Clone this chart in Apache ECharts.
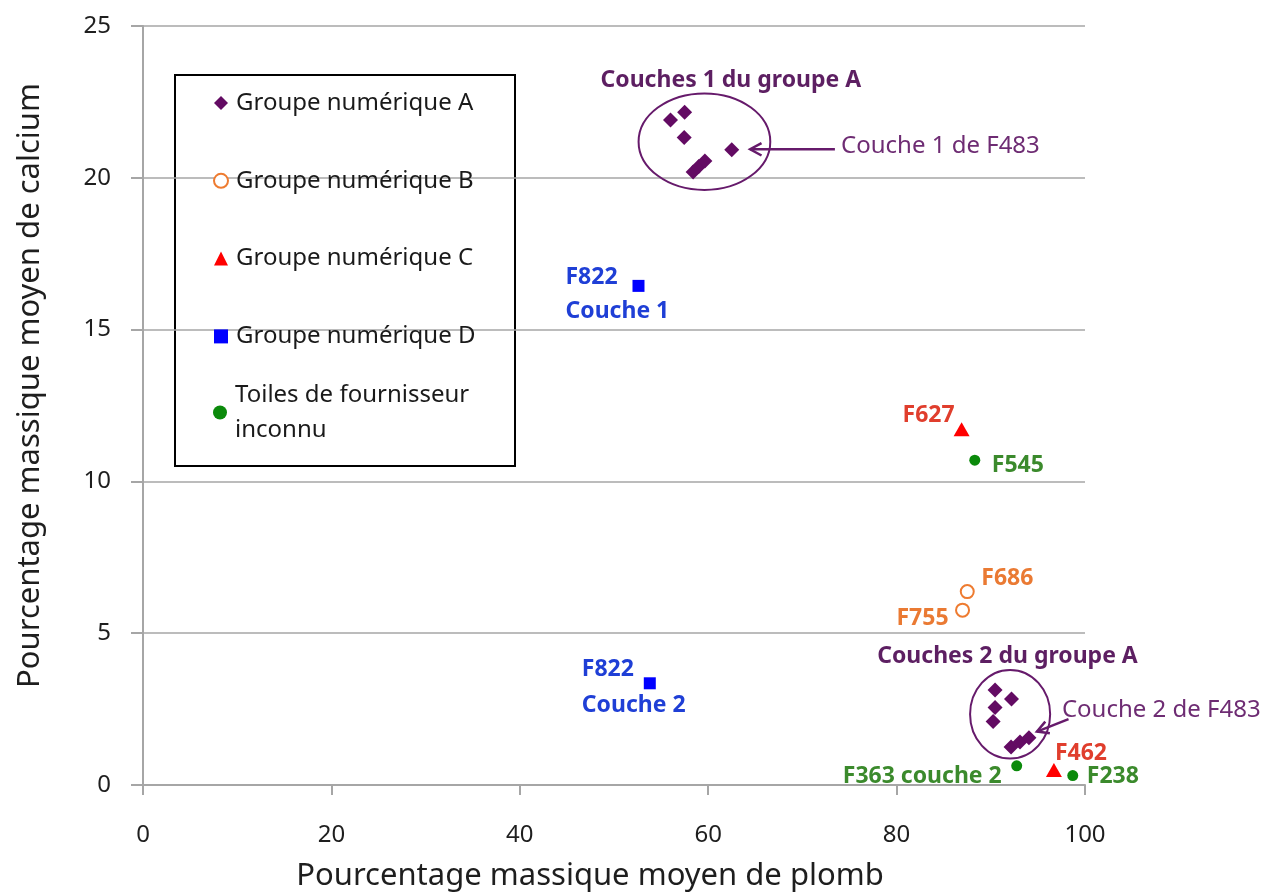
<!DOCTYPE html>
<html>
<head>
<meta charset="utf-8">
<script src="https://cdn.jsdelivr.net/npm/echarts@6/dist/echarts.min.js"></script>
<style>
  html, body { margin: 0; padding: 0; background: #fff; }
  #chart { width: 1270px; height: 892px; }
</style>
</head>
<body>
<div id="chart"></div>
<script>
// Mean lead vs. mean calcium mass percentage, one point per layer
const xTicks = [0, 20, 40, 60, 80, 100];
const yTicks = [0, 5, 10, 15, 20, 25];

const seriesNames = [
  'Groupe numérique A',
  'Groupe numérique B',
  'Groupe numérique C',
  'Groupe numérique D',
  'Toiles de fournisseur\ninconnu'
];

// group A: first layers (upper cluster), then second layers (lower cluster)
const groupA = [
  [56.0, 21.90], [57.5, 22.16], [57.45, 21.33], [62.5, 20.92],
  [58.4, 20.19], [59.0, 20.37], [59.65, 20.55],
  [90.45, 3.13], [92.2, 2.83], [90.45, 2.55], [90.25, 2.09],
  [92.15, 1.25], [93.1, 1.42], [94.05, 1.56]
];
const groupB = [[87.5, 6.37], [87.0, 5.76]];
const groupBNames = ['F686', 'F755'];
const groupC = [[86.9, 11.72], [96.7, 0.49]];
const groupCNames = ['F627', 'F462'];
const groupD = [[52.6, 16.44], [53.8, 3.35]];
const groupDNames = ['F822\nCouche 1', 'F822\nCouche 2'];
const unknownSupplier = [[88.3, 10.70], [92.75, 0.63], [98.7, 0.31]];
const unknownNames = ['F545', 'F363 couche 2', 'F238'];

// circled clusters: centre x, centre y, half-width, half-height
const clusterRings = [[59.6, 21.19, 6.99, 1.59], [92.05, 2.33, 4.25, 1.46]];
const clusterTitles = ['Couches 1 du groupe A', 'Couches 2 du groupe A'];
const clusterTitlePos = [[62.4, 23.22], [91.77, 4.23]];
// arrows to the F483 layers: from x, from y, to x, to y
const pointerLines = [[73.45, 20.94, 64.45, 20.94], [98.25, 2.17, 94.9, 1.76]];
const pointerTexts = ['Couche 1 de F483', 'Couche 2 de F483'];
const pointerTextPos = [[74.1, 21.04], [97.55, 2.47]];

const FONT = '"Noto Sans", "DejaVu Sans", sans-serif';
const PURPLE = '#630b63';
const PURPLE_TEXT = '#5d1f62';

// where each point label sits relative to its marker (pixels)
const labelPlacement = {
  'F686': { dx: 14, dy: -13, align: 'left' },
  'F755': { dx: -14, dy: 8, align: 'right' },
  'F627': { dx: -7, dy: -14, align: 'right' },
  'F462': { dx: 1, dy: -17, align: 'left' },
  'F822\nCouche 1': { dx: -73, dy: 8.5, align: 'left', lineHeight: 34 },
  'F822\nCouche 2': { dx: -68, dy: 4.5, align: 'left', lineHeight: 36 },
  'F545': { dx: 17, dy: 5, align: 'left' },
  'F363 couche 2': { dx: -15, dy: 11, align: 'right' },
  'F238': { dx: 14, dy: 1, align: 'left' }
};

function labelled(values, names, color) {
  return values.map((v, i) => {
    const p = labelPlacement[names[i]];
    return {
      name: names[i],
      value: v,
      label: {
        show: true,
        position: 'inside',
        formatter: '{b}',
        offset: [p.dx, p.dy],
        align: p.align,
        verticalAlign: 'middle',
        lineHeight: p.lineHeight || 28,
        color: color,
        fontSize: 23,
        fontWeight: 'bold',
        fontFamily: FONT
      }
    };
  });
}

const chart = echarts.init(document.getElementById('chart'));

chart.setOption({
  animation: false,
  backgroundColor: '#fff',
  textStyle: { fontFamily: FONT },
  grid: { left: 143, right: 185, top: 26, bottom: 107, containLabel: false, outerBoundsMode: 'none' },
  xAxis: {
    type: 'value',
    min: xTicks[0],
    max: xTicks[xTicks.length - 1],
    interval: xTicks[1] - xTicks[0],
    splitLine: { show: false },
    axisLine: { show: true, onZero: false, lineStyle: { color: '#a6a6a6', width: 2 } },
    axisTick: { show: true, length: 10, lineStyle: { color: '#a6a6a6', width: 2 } },
    axisLabel: { fontSize: 24, color: '#1e1e1e', margin: 38, fontFamily: FONT },
    name: 'Pourcentage massique moyen de plomb',
    nameLocation: 'middle',
    nameGap: 76,
    nameMoveOverlap: false,
    nameTextStyle: { fontSize: 31, color: '#1e1e1e', fontFamily: FONT, padding: [0, 48, 0, 0] }
  },
  yAxis: {
    type: 'value',
    min: yTicks[0],
    max: yTicks[yTicks.length - 1],
    interval: yTicks[1] - yTicks[0],
    splitLine: { show: true, lineStyle: { color: '#a6a6a6', width: 1.5 } },
    axisLine: { show: true, lineStyle: { color: '#a6a6a6', width: 2 } },
    axisTick: { show: true, length: 12, lineStyle: { color: '#a6a6a6', width: 2 } },
    axisLabel: { fontSize: 24, color: '#1e1e1e', margin: 32, fontFamily: FONT },
    name: 'Pourcentage massique moyen de calcium',
    nameLocation: 'middle',
    nameGap: 97,
    nameMoveOverlap: false,
    nameTextStyle: { fontSize: 31, color: '#1e1e1e', fontFamily: FONT, padding: [0, 0, 0, 40] }
  },
  legend: [
    {
      data: seriesNames.slice(0, 4),
      orient: 'vertical',
      left: 213,
      top: 88,
      padding: 0,
      itemGap: 47.8,
      itemWidth: 14,
      itemHeight: 14,
      selectedMode: false,
      textStyle: { fontSize: 24, lineHeight: 30, padding: [0, 0, 0, 3], color: '#1a1a1a', fontFamily: FONT }
    },
    {
      data: [seriesNames[4]],
      orient: 'vertical',
      left: 213,
      top: 360,
      padding: 0,
      itemWidth: 14,
      itemHeight: 14,
      selectedMode: false,
      textStyle: { fontSize: 24, lineHeight: 35, padding: [35, 0, 0, 3], color: '#1a1a1a', fontFamily: FONT }
    }
  ],
  graphic: {
    z: 3,
    elements: [{
      type: 'rect',
      shape: { x: 175, y: 75, width: 340, height: 391 },
      style: { fill: '#fff', stroke: '#000', lineWidth: 2 }
    }]
  },
  series: [
    {
      name: seriesNames[0],
      type: 'scatter',
      symbol: 'diamond',
      symbolSize: 15,
      itemStyle: { color: PURPLE, opacity: 1 },
      data: groupA
    },
    {
      name: seriesNames[1],
      type: 'scatter',
      symbol: 'emptyCircle',
      symbolSize: 13,
      itemStyle: { color: '#ee7b30', borderColor: '#ee7b30', borderWidth: 2.5, opacity: 1 },
      data: labelled(groupB, groupBNames, '#ea7a33')
    },
    {
      name: seriesNames[2],
      type: 'scatter',
      symbol: 'triangle',
      symbolSize: [16, 14],
      itemStyle: { color: '#ff0000', opacity: 1 },
      data: labelled(groupC, groupCNames, '#e03e2d')
    },
    {
      name: seriesNames[3],
      type: 'scatter',
      symbol: 'rect',
      symbolSize: 12,
      itemStyle: { color: '#0000ff', opacity: 1 },
      data: labelled(groupD, groupDNames, '#1f3fd6')
    },
    {
      name: seriesNames[4],
      type: 'scatter',
      symbol: 'circle',
      symbolSize: 11,
      itemStyle: { color: '#0b8a0b', opacity: 1 },
      data: labelled(unknownSupplier, unknownNames, '#3b8a2c')
    },
    {
      // rings around the two group A clusters
      type: 'custom',
      silent: true,
      clip: false,
      data: clusterRings,
      renderItem: (params, api) => {
        const c = api.coord([api.value(0), api.value(1)]);
        const s = api.size([api.value(2), api.value(3)]);
        return {
          type: 'ellipse',
          shape: { cx: c[0], cy: c[1], rx: s[0], ry: s[1] },
          style: { fill: 'none', stroke: '#661a6b', lineWidth: 2 }
        };
      }
    },
    {
      // cluster headings
      type: 'custom',
      silent: true,
      clip: false,
      data: clusterTitlePos,
      renderItem: (params, api) => {
        const c = api.coord([api.value(0), api.value(1)]);
        return {
          type: 'text',
          x: c[0], y: c[1],
          style: {
            text: clusterTitles[params.dataIndex],
            fill: PURPLE_TEXT,
            fontSize: 23, fontWeight: 'bold', fontFamily: FONT,
            align: 'center', verticalAlign: 'middle'
          }
        };
      }
    },
    {
      // arrows pointing at the F483 layers
      type: 'custom',
      silent: true,
      clip: false,
      data: pointerLines,
      renderItem: (params, api) => {
        const a = api.coord([api.value(0), api.value(1)]);
        const b = api.coord([api.value(2), api.value(3)]);
        const ang = Math.atan2(a[1] - b[1], a[0] - b[0]);
        const len = 13, spread = 0.5;
        const p1 = [b[0] + len * Math.cos(ang + spread), b[1] + len * Math.sin(ang + spread)];
        const p2 = [b[0] + len * Math.cos(ang - spread), b[1] + len * Math.sin(ang - spread)];
        return {
          type: 'group',
          children: [
            { type: 'line', shape: { x1: a[0], y1: a[1], x2: b[0], y2: b[1] },
              style: { stroke: '#661a6b', lineWidth: 2.5 } },
            { type: 'polyline', shape: { points: [p1, b, p2] },
              style: { stroke: '#661a6b', lineWidth: 2.5, fill: 'none' } }
          ]
        };
      }
    },
    {
      // arrow captions
      type: 'custom',
      silent: true,
      clip: false,
      data: pointerTextPos,
      renderItem: (params, api) => {
        const c = api.coord([api.value(0), api.value(1)]);
        return {
          type: 'text',
          x: c[0], y: c[1],
          style: {
            text: pointerTexts[params.dataIndex],
            fill: '#6e2c73',
            fontSize: 24, fontFamily: FONT,
            align: 'left', verticalAlign: 'middle'
          }
        };
      }
    }
  ]
});
</script>
</body>
</html>
